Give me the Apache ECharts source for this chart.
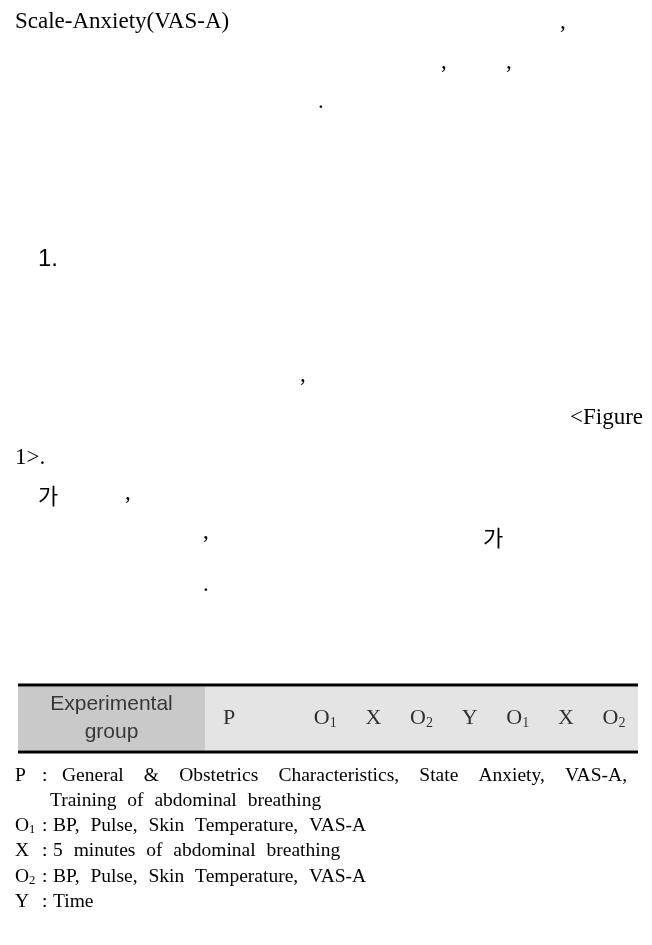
<!DOCTYPE html>
<html><head><meta charset="utf-8">
<script src="https://cdn.jsdelivr.net/npm/echarts@6/dist/echarts.min.js"></script>
<style>html,body{margin:0;padding:0;background:#fff}#c{width:652px;height:945px}</style>
</head><body><div id="c"></div>
<script>
// ---- content ----
const bodyFragments = ["Scale-Anxiety(VAS-A)", ",", ",", ",", ".", "1.", ",", "<Figure", "1>.", "가", ",", ",", "가", "."];
const groupLabel = ["Experimental", "group"];
const designSteps = ["P", "", "O1", "X", "O2", "Y", "O1", "X", "O2"];
const legendKeys = ["P", "", "O1", "X", "O2", "Y"];
const legendTexts = [
  "General & Obstetrics Characteristics, State Anxiety, VAS-A,",
  "Training of abdominal breathing",
  "BP, Pulse, Skin Temperature, VAS-A",
  "5 minutes of abdominal breathing",
  "BP, Pulse, Skin Temperature, VAS-A",
  "Time"
];

// ---- styling / layout ----
const SERIF = "'Liberation Serif','Times New Roman',serif";
const SANS = "'Liberation Sans',Arial,sans-serif";
const KR = "'Noto Sans CJK KR','Noto Sans CJK SC',sans-serif";
const INK = '#000';
const bodyLayout = [
  [15, 22, 'serif'], [560, 22, 'serif'],
  [441, 62, 'serif'], [506, 62, 'serif'],
  [318, 102, 'serif'],
  [38, 259, 'sans'],
  [300, 375, 'serif'],
  [570, 418, 'serif'],
  [15, 458, 'serif'],
  [38, 496, 'kr'], [125, 493, 'serif'],
  [203, 532, 'serif'], [483, 538, 'kr'],
  [203, 585, 'serif']
];
const fontOf = {serif: '23px ' + SERIF, sans: '24px ' + SANS, kr: '22px ' + KR};

const ctx = document.createElement('canvas').getContext('2d');
function measure(t, font) { ctx.font = font; return ctx.measureText(t).width; }

function sub(s) {
  const m = /^([A-Z])(\d)$/.exec(s);
  return m ? '{m|' + m[1] + '}{s|' + m[2] + '}' : '{m|' + s + '}';
}

const graphics = [];
bodyFragments.forEach((t, i) => {
  const [x, y, k] = bodyLayout[i];
  graphics.push({type: 'text', silent: true, style: {text: t, x: x, y: y, font: fontOf[k], fill: INK, textVerticalAlign: 'middle'}});
});

// table rules
[685, 752].forEach(y => graphics.push({type: 'line', silent: true, shape: {x1: 18, y1: y, x2: 638, y2: y}, style: {stroke: '#000', lineWidth: 3}}));

// legend / footnotes
const FS = 19.5;
const FN = FS + 'px ' + SERIF;
const fnRich = {
  m: {fontFamily: SERIF, fontSize: FS, color: INK},
  s: {fontFamily: SERIF, fontSize: 12.5, color: INK, padding: [8, 0, 0, 0]}
};
const fnY = [776, 801, 826, 851, 877, 902];
legendKeys.forEach((k, i) => {
  const y = fnY[i];
  if (k) {
    graphics.push({type: 'text', silent: true, style: {text: sub(k), x: 15, y: y, textVerticalAlign: 'middle', rich: fnRich}});
    graphics.push({type: 'text', silent: true, style: {text: ':', x: 42, y: y, font: FN, fill: INK, textVerticalAlign: 'middle'}});
  }
  const words = legendTexts[i].split(' ');
  const x0 = i === 0 ? 62 : (k ? 53 : 50);
  const ws = words.map(w => measure(w, FN));
  let gap;
  if (i === 0) gap = (627 - x0 - ws.reduce((a, b) => a + b, 0)) / (words.length - 1);
  else gap = measure(' ', FN) + 6;
  let x = x0;
  words.forEach((w, j) => {
    graphics.push({type: 'text', silent: true, style: {text: w, x: x, y: y, font: FN, fill: INK, textVerticalAlign: 'middle'}});
    x += ws[j] + gap;
  });
});

const tblRich = {
  m: {fontFamily: SERIF, fontSize: 22, color: INK},
  s: {fontFamily: SERIF, fontSize: 14, color: INK, padding: [9, 0, 0, 0]}
};

const chart = echarts.init(document.getElementById('c'), null, {renderer: 'canvas'});
chart.setOption({
  animation: false,
  backgroundColor: '#fff',
  grid: [
    {left: 18, top: 686.5, width: 187, height: 64, show: true, backgroundColor: '#c9c9c9', borderWidth: 0},
    {left: 205, top: 686.5, width: 433, height: 64, show: true, backgroundColor: '#e4e4e4', borderWidth: 0}
  ],
  xAxis: [
    {gridIndex: 0, type: 'category', data: [groupLabel.join('\n')], show: false},
    {gridIndex: 1, type: 'category', data: designSteps.map((s, i) => i), show: false}
  ],
  yAxis: [
    {gridIndex: 0, type: 'value', min: 0, max: 1, show: false},
    {gridIndex: 1, type: 'value', min: 0, max: 1, show: false}
  ],
  series: [
    {
      type: 'scatter', xAxisIndex: 0, yAxisIndex: 0, symbolSize: 1, itemStyle: {color: 'rgba(0,0,0,0)'},
      data: [{value: [0, 0.5], name: groupLabel.join('\n')}],
      label: {show: true, position: 'inside', formatter: p => p.name, fontFamily: SANS, fontSize: 21, lineHeight: 28, color: '#111'}
    },
    {
      type: 'scatter', xAxisIndex: 1, yAxisIndex: 1, symbolSize: 1, itemStyle: {color: 'rgba(0,0,0,0)'},
      data: designSteps.map((s, i) => ({value: [i, 0.5], name: s})).filter(d => d.name),
      label: {show: true, position: 'inside', formatter: p => sub(p.name), rich: tblRich}
    }
  ],
  graphic: graphics
});
</script></body></html>
